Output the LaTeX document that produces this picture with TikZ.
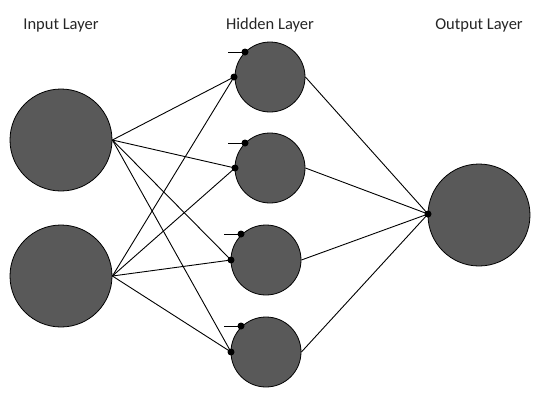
\documentclass[tikz,border=0pt]{standalone}
\usepackage{fontspec}
\setmainfont{Carlito}
\begin{document}
\begin{tikzpicture}[x=1pt,y=-1pt,
  neuron/.style={circle,draw=black,line width=0.8pt,fill=neurongray,inner sep=0pt},
  bignode/.style={neuron,minimum size=102pt},
  smallnode/.style={neuron,minimum size=70pt},
  dotnode/.style={circle,fill=black,inner sep=0pt,minimum size=7pt},
  conn/.style={line width=0.9pt,draw=black},
  lbl/.style={font=\fontsize{16.5}{19}\selectfont,inner sep=0pt,anchor=base,text=textgray}]
\definecolor{neurongray}{HTML}{595959}
\definecolor{textgray}{HTML}{262626}
\useasboundingbox (0,0) rectangle (557,400);
\fill[white] (0,0) rectangle (557,400);
% labels
\node[lbl] (tin) at (61,29.3) {Input Layer};
\node[lbl] (thid) at (270,29.3) {Hidden Layer};
\node[lbl] (tout) at (479,29.3) {Output Layer};
% neurons
\node[bignode] (i1) at (61,140) {};
\node[bignode] (i2) at (61,276) {};
\node[smallnode] (h1) at (270,77) {};
\node[smallnode] (h2) at (270,168) {};
\node[smallnode] (h3) at (266,260) {};
\node[smallnode] (h4) at (266,352) {};
\node[bignode] (o) at (479,215) {};
% input dots
\coordinate (h1in) at (234,77);
\coordinate (h2in) at (235,168);
\coordinate (h3in) at (231,260);
\coordinate (h4in) at (231,352);
\coordinate (oin) at (428,214);
% bias
\coordinate (b1s) at (228,52);
\coordinate (b1) at (245,52);
\coordinate (b2s) at (228,143);
\coordinate (b2) at (245,143);
\coordinate (b3s) at (224,234);
\coordinate (b3) at (241,234);
\coordinate (b4s) at (224,326);
\coordinate (b4) at (241,326);
% connectors
\foreach \i in {i1,i2}{
  \foreach \h in {h1in,h2in,h3in,h4in}{
    \draw[conn] (\i.east) -- (\h);
  }
}
\foreach \h in {h1,h2,h3,h4}{
  \draw[conn] (\h.east) -- (oin);
}
\foreach \b in {b1,b2,b3,b4}{
  \draw[conn] (\b s) -- (\b);
}
% dots
\foreach \d in {h1in,h2in,h3in,h4in,oin,b1,b2,b3,b4}{
  \node[dotnode] at (\d) {};
}
\end{tikzpicture}
\end{document}
